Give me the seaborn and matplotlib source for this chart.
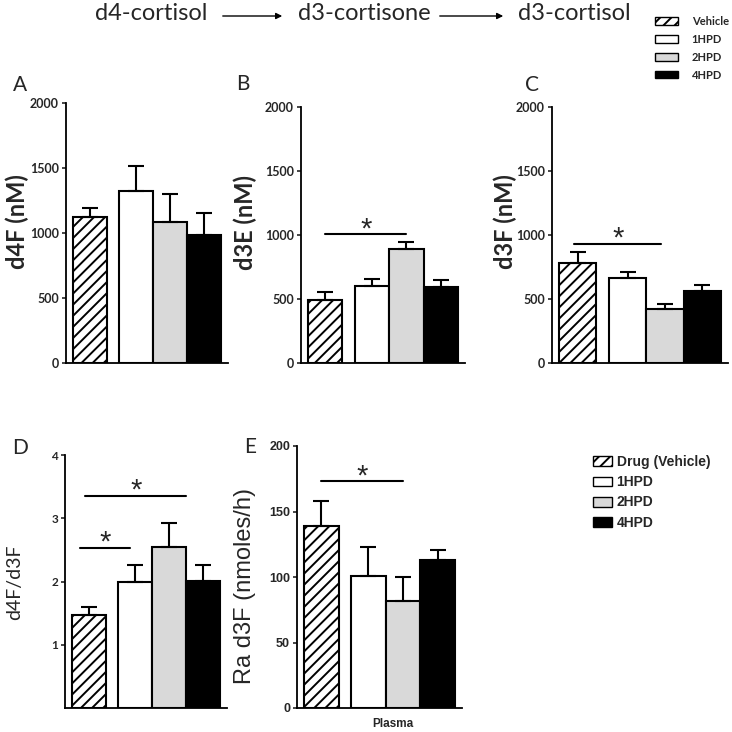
import matplotlib
matplotlib.use("Agg")
import matplotlib.pyplot as plt
from matplotlib.patches import Patch, FancyArrowPatch
import numpy as np
import pandas as pd
import seaborn as sns

# groups and values
groups = ["Vehicle", "1HPD", "2HPD", "4HPD"]
colors = {"Vehicle": "white", "1HPD": "white", "2HPD": "#d9d9d9", "4HPD": "black"}

d4F = [1120, 1323, 1085, 982]
d4F_err = [75, 195, 212, 169]
d3E = [494, 600, 894, 597]
d3E_err = [62, 57, 54, 52]
d3F = [784, 661, 424, 562]
d3F_err = [81, 53, 37, 47]
ratio = [1.47, 2.00, 2.55, 2.01]
ratio_err = [0.12, 0.26, 0.37, 0.25]
ra_d3F = [138.6, 100.5, 81.7, 112.7]
ra_d3F_err = [19.5, 22.5, 18.0, 8.0]

# bar positions (gap after the vehicle bar)
pos = [0, 1.35, 2.35, 3.35]

sns.set_style("white")
plt.rcParams["font.family"] = ["Lato", "DejaVu Sans"]
plt.rcParams["hatch.linewidth"] = 1.4

W = 732
fig = plt.figure(figsize=(7.32, 7.32), dpi=100)


def px_axes(l, r, t, b):
    return fig.add_axes([l / W, 1 - b / W, (r - l) / W, (b - t) / W])


def panel(ax, vals, errs, ylim, yticks, tickfont="Lato", ticksize=9):
    df = pd.DataFrame({"pos": pos, "val": vals, "group": groups})
    sns.barplot(data=df, x="pos", y="val", hue="group", hue_order=groups,
                palette=colors, native_scale=True, width=1, dodge=False,
                edgecolor="black", linewidth=1.5, legend=False, ax=ax)
    first = min(ax.patches, key=lambda p: p.get_x())
    first.set_hatch("///")
    ax.errorbar(pos, vals, yerr=[np.zeros(4), errs], fmt="none", ecolor="black",
                elinewidth=1.5, capsize=6, capthick=1.5, zorder=1)
    ax.set_xlim(-0.7, 4.05)
    ax.set_ylim(*ylim)
    ax.set_yticks(yticks)
    ax.set_yticklabels([str(t) for t in yticks], fontsize=ticksize, fontweight="bold",
                       family=tickfont)
    ax.set_xticks([])
    ax.set_xlabel("")
    ax.set_ylabel("")
    sns.despine(ax=ax)
    for s in ["left", "bottom"]:
        ax.spines[s].set_linewidth(1.3)
        ax.spines[s].set_color("black")
    ax.tick_params(axis="y", direction="out", length=3, width=1.2, left=True, pad=2)


def sig(ax, x0, x1, y):
    ax.plot([x0, x1], [y, y], color="black", lw=1.5, clip_on=False)
    ax.annotate("*", xy=((x0 + x1) / 2, y), xytext=(0, -2), textcoords="offset points",
                ha="center", va="baseline", fontsize=21, family="Liberation Sans")


axA = px_axes(66, 228, 103, 363)
panel(axA, d4F, d4F_err, (0, 2000), [0, 500, 1000, 1500, 2000])

axB = px_axes(301, 465, 107, 363)
panel(axB, d3E, d3E_err, (0, 2000), [0, 500, 1000, 1500, 2000])
sig(axB, 0, 2.35, 1005)

axC = px_axes(552, 728, 107, 363)
panel(axC, d3F, d3F_err, (0, 2000), [0, 500, 1000, 1500, 2000])
sig(axC, -0.1, 2.25, 932)

axD = px_axes(65, 227, 455, 708)
panel(axD, ratio, ratio_err, (0, 4), [1, 2, 3, 4], ticksize=8.5)
sig(axD, -0.1, 2.85, 3.35)
sig(axD, -0.25, 1.2, 2.53)

axE = px_axes(297, 462, 446, 708)
panel(axE, ra_d3F, ra_d3F_err, (0, 200), [0, 50, 100, 150, 200],
      tickfont="Liberation Sans")
sig(axE, 0, 2.35, 173)

# y labels
for txt, x, y in [("d4F (nM)", 17, 222), ("d3E (nM)", 245, 222), ("d3F (nM)", 505, 222)]:
    fig.text(x / W, 1 - y / W, txt, rotation=90, ha="center", va="center",
             fontsize=17, fontweight="bold")
fig.text(15 / W, 1 - 582 / W, "d4F/d3F", rotation=90, ha="center", va="center",
         fontsize=14)
fig.text(245 / W, 1 - 586 / W, "Ra d3F (nmoles/h)", rotation=90, ha="center",
         va="center", fontsize=17, family="Liberation Sans")
fig.text(393 / W, 1 - 724 / W, "Plasma", ha="center", va="center", fontsize=8.5,
         fontweight="bold", family="Liberation Sans")

# panel letters
for lab, x, y in [("A", 20, 85), ("B", 243, 84), ("C", 532, 85),
                  ("D", 20, 448), ("E", 250, 447)]:
    fig.text(x / W, 1 - y / W, lab, ha="center", va="center", fontsize=15)

# header
for txt, x in [("d4-cortisol", 151), ("d3-cortisone", 364), ("d3-cortisol", 574)]:
    fig.text(x / W, 1 - 14 / W, txt, ha="center", va="center", fontsize=17)
for x0, x1 in [(220, 285), (437, 506)]:
    fig.add_artist(FancyArrowPatch(
        (x0 / W, 1 - 16 / W), (x1 / W, 1 - 16 / W), transform=fig.transFigure,
        arrowstyle="-|>", mutation_scale=9, lw=1.0, color="black"))

# legends
handles = [Patch(facecolor=colors[g], edgecolor="black",
                 hatch="///" if g == "Vehicle" else None) for g in groups]
fig.legend(handles, groups, loc="upper left", bbox_to_anchor=(655 / W, 1 - 16 / W),
           frameon=False, prop={"size": 8, "weight": "bold"}, handlelength=2.1,
           handleheight=0.65, labelspacing=0.62, handletextpad=1.2, borderpad=0,
           borderaxespad=0)
fig.legend(handles, ["Drug (Vehicle)", "1HPD", "2HPD", "4HPD"], loc="upper left",
           bbox_to_anchor=(593 / W, 1 - 455 / W), frameon=False,
           prop={"size": 10, "weight": "bold", "family": "Liberation Sans"},
           handlelength=1.4, handleheight=0.7, labelspacing=0.45, handletextpad=0.3,
           borderpad=0, borderaxespad=0)

fig.savefig("out.png", dpi=100)
